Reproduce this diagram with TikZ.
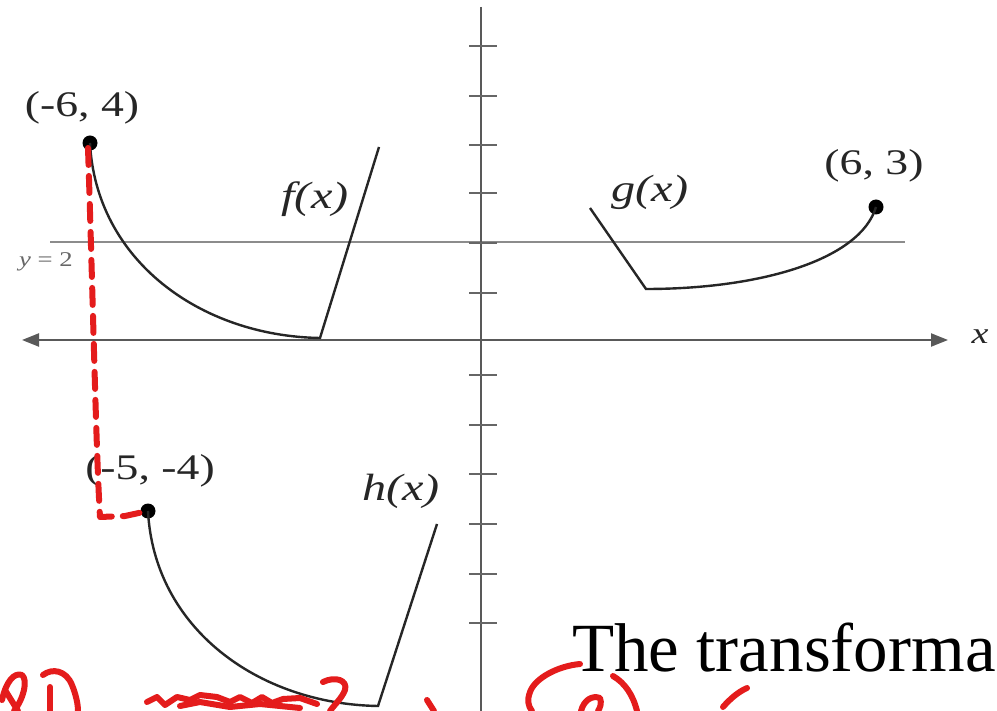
\documentclass[tikz,border=0pt]{standalone}
\usepackage{fontspec}
\setmainfont{Liberation Serif}
\usetikzlibrary{arrows.meta}
\definecolor{inkred}{RGB}{228,28,28}
\begin{document}
\begin{tikzpicture}[x=1pt,y=-1pt,
  axis/.style={draw=black!65, line width=2.6pt},
  tickmark/.style={draw=black!60, line width=1.8pt},
  curve/.style={draw=black!85, line width=2.4pt},
  refline/.style={draw=black!45, line width=1.4pt},
  ptdot/.style={circle, fill=black, inner sep=0pt, minimum size=15pt},
  lbl/.style={font=\fontsize{36}{36}\selectfont, xscale=1.27, transform shape, inner sep=0pt, text=black!85},
  ink/.style={draw=inkred, line width=6pt, line cap=round, line join=round},
]
\useasboundingbox (0,0) rectangle (997,711);
\clip (0,0) rectangle (997,711);
\fill[white] (0,0) rectangle (997,711);

% reference line y = 2
\coordinate (r1) at (50,242);
\coordinate (r2) at (905,242);
\draw[refline] (r1) -- (r2);
\node[font=\fontsize{21}{21}\selectfont, xscale=1.27, transform shape, text=black!60] (ylab) at (46,262) {\textit{y} = 2};

% axes
\coordinate (xl) at (22,340);
\coordinate (xr) at (948,340);
\draw[axis, line width=2.2pt, {Triangle[length=17pt,width=13pt]}-{Triangle[length=17pt,width=13pt]}] (xl) -- (xr);
\node[lbl, font=\fontsize{30}{30}\selectfont] (xlab) at (980,337) {\textit{x}};
\coordinate (yt) at (481,7);
\coordinate (yb) at (481,720);
\draw[axis] (yt) -- (yb);
\foreach \t in {46,96,145,193,243,293,375,425,474,524,574,623}
  \draw[tickmark] (469,\t) -- (497,\t);

% f(x)
\node[ptdot] (F) at (90,143) {};
\coordinate (fb) at (320,338);
\coordinate (ft) at (379,147);
\draw[curve] (F.center) .. controls (96,260) and (200,336) .. (fb) -- (ft);
\node[lbl] (Flab) at (82,108) {(-6, 4)};
\node[lbl, font=\fontsize{38}{38}\selectfont] (fname) at (315,199) {\textit{f(x)}};

% g(x)
\node[ptdot] (G) at (876,207) {};
\coordinate (gt) at (590,208);
\coordinate (gb) at (646,289);
\draw[curve] (gt) -- (gb) .. controls (760,289) and (860,260) .. (G.center);
\node[lbl] (Glab) at (874,166) {(6, 3)};
\node[lbl, font=\fontsize{38}{38}\selectfont] (gname) at (650,192) {\textit{g(x)}};

% h(x)
\node[ptdot] (H) at (148,511) {};
\coordinate (hb) at (378,706);
\coordinate (ht) at (437,524);
\draw[curve] (H.center) .. controls (154,628) and (258,704) .. (hb) -- (ht);
\node[lbl] (Hlab) at (150,471) {(-5, -4)};
\node[lbl, font=\fontsize{38}{38}\selectfont] (hname) at (401,491) {\textit{h(x)}};

% red dashed hand drawing
\coordinate (d1) at (88,148);
\coordinate (d2) at (100,517);
\draw[ink, dash pattern=on 17pt off 11pt] (d1) .. controls (93,300) and (96,450) .. (d2) -- (125,516) -- (H.center);

% text
\node[anchor=base west, inner sep=0pt, font=\fontsize{69}{69}\selectfont] (txt) at (572,671) {The transforma};

% red handwriting at bottom
\draw[ink] (2,700) .. controls (6,682) and (14,672) .. (22,675) .. controls (28,680) and (24,698) .. (14,711);
\draw[ink] (5,690) -- (18,711);
\draw[ink] (43,675) .. controls (52,668) and (66,670) .. (72,685) .. controls (76,695) and (78,704) .. (78,711);
\draw[ink] (50,687) -- (50,711);
\draw[ink] (147,702) -- (157,697) -- (165,705) -- (177,697) -- (190,700) -- (200,695) -- (217,697) -- (230,702) -- (240,697) -- (252,703) -- (262,697) -- (272,703) -- (283,699) -- (300,698) -- (317,704);
\draw[ink] (180,706) -- (200,702) -- (230,707) -- (260,704) -- (300,708);
\draw[ink] (323,682) .. controls (335,676) and (348,680) .. (345,690) .. controls (342,698) and (335,704) .. (330,711);
\draw[ink] (427,700) -- (434,711);
\draw[ink] (580,664) .. controls (558,666) and (535,678) .. (530,692) .. controls (527,700) and (528,706) .. (532,711);
\draw[ink] (613,676) .. controls (625,683) and (633,695) .. (637,711);
\draw[ink] (581,711) .. controls (584,700) and (592,695) .. (600,698) .. controls (602,703) and (600,708) .. (598,711);
\draw[ink] (747,688) .. controls (738,692) and (730,699) .. (723,707);
\end{tikzpicture}
\end{document}
